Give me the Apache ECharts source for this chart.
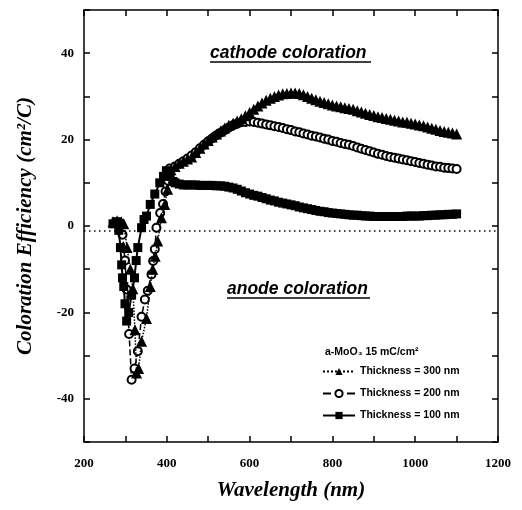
<!DOCTYPE html>
<html>
<head>
    <meta charset="UTF-8">
    <title>Coloration efficiency</title>
    <script src="https://cdn.jsdelivr.net/npm/echarts@6/dist/echarts.min.js"></script>
    <style>
        body { margin: 0; background: #fff; }
        #chart { width: 522px; height: 510px; }
    </style>
</head>
<body>
<div id="chart"></div>
<script>
    // wavelength (nm) and coloration efficiency (cm2/C)
    var wl_300 = [270, 280, 290, 296, 304, 312, 318, 323, 327, 332, 339, 351, 360, 366, 372, 378, 387, 395, 402,
        410, 420, 430, 440, 450, 460, 470, 480, 490, 500, 510, 520, 530, 540, 550, 560, 570, 580, 590, 600,
        610, 620, 630, 640, 650, 660, 670, 680, 690, 700, 710, 720, 730, 740, 750, 760, 770, 780, 790, 800,
        810, 820, 830, 840, 850, 860, 870, 880, 890, 900, 910, 920, 930, 940, 950, 960, 970, 980, 990, 1000,
        1010, 1020, 1030, 1040, 1050, 1060, 1070, 1080, 1090, 1100];
    var ce_300 = [1, 1.2, 1, 0.5, -5, -10, -14.5, -24, -34, -33, -26.7, -21.4, -14, -10, -7, -3.5, 1.9, 5, 8.5,
        13, 13.8, 14.5, 15, 15.5, 16, 17, 18, 19, 19.8, 20.6, 21.3, 22, 22.7, 23.3, 23.8, 24.3, 24.8, 25.5, 26.3,
        27, 27.8, 28.5, 29.1, 29.6, 30, 30.3, 30.6, 30.7, 30.8, 30.8, 30.7, 30.4, 30, 29.6, 29.2, 28.9, 28.6, 28.3, 28,
        27.8, 27.6, 27.4, 27.2, 27, 26.7, 26.4, 26.1, 25.8, 25.6, 25.3, 25.1, 24.9, 24.7, 24.5, 24.3, 24.1, 24, 23.8, 23.6,
        23.4, 23.2, 22.9, 22.6, 22.4, 22.1, 21.9, 21.7, 21.5, 21.3];

    var wl_200 = [288, 293, 299, 303, 309, 315, 322, 330, 339, 347, 354, 363, 367, 371, 375, 384, 391, 397, 403,
        407, 420, 430, 440, 450, 460, 470, 480, 490, 500, 510, 520, 530, 540, 550, 560, 570, 580, 590, 600,
        610, 620, 630, 640, 650, 660, 670, 680, 690, 700, 710, 720, 730, 740, 750, 760, 770, 780, 790, 800,
        810, 820, 830, 840, 850, 860, 870, 880, 890, 900, 910, 920, 930, 940, 950, 960, 970, 980, 990, 1000,
        1010, 1020, 1030, 1040, 1050, 1060, 1070, 1080, 1090, 1100];
    var ce_200 = [0.5, -2, -8, -14.7, -25, -35.6, -33, -29, -21, -17, -15, -11.2, -8.1, -5.4, -0.4, 3, 5.1, 8, 10.5,
        13.3, 13.8, 14.4, 15, 15.6, 16.3, 17.1, 18, 18.8, 19.6, 20.3, 21, 21.6, 22.2, 22.8, 23.3, 23.7, 24, 24.1, 24.2,
        24.1, 23.9, 23.7, 23.5, 23.3, 23.1, 22.9, 22.7, 22.4, 22.2, 21.9, 21.7, 21.4, 21.2, 20.9, 20.7, 20.5, 20.2, 20, 19.7,
        19.5, 19.2, 19, 18.8, 18.5, 18.2, 17.9, 17.6, 17.3, 17, 16.7, 16.5, 16.2, 16, 15.8, 15.6, 15.4, 15.2, 15, 14.8,
        14.6, 14.4, 14.2, 14, 13.8, 13.7, 13.5, 13.4, 13.3, 13.2];

    var wl_100 = [270, 278, 284, 288, 291, 293, 296, 299, 303, 308, 315, 322, 326, 330, 339, 345, 351, 360, 371,
        383, 392, 399, 408, 415, 420, 430, 440, 450, 460, 470, 480, 490, 500, 510, 520, 530, 540, 550, 560,
        570, 580, 590, 600, 610, 620, 630, 640, 650, 660, 670, 680, 690, 700, 710, 720, 730, 740, 750, 760,
        770, 780, 790, 800, 810, 820, 830, 840, 850, 860, 870, 880, 890, 900, 910, 920, 930, 940, 950, 960,
        970, 980, 990, 1000, 1010, 1020, 1030, 1040, 1050, 1060, 1070, 1080, 1090, 1100];
    var ce_100 = [0.5, 1, -1, -5, -9, -12, -14, -18, -22, -20, -16, -12, -8, -5, -0.4, 1.5, 2.3, 5, 7.4,
        10, 11.5, 12.8, 11.5, 10.3, 10, 9.7, 9.5, 9.5, 9.5, 9.5, 9.4, 9.4, 9.4, 9.4, 9.3, 9.3, 9.2, 9, 8.8,
        8.5, 8.1, 7.7, 7.4, 7.1, 6.9, 6.6, 6.3, 6, 5.8, 5.5, 5.3, 5.1, 4.9, 4.7, 4.4, 4.2, 4, 3.8, 3.6,
        3.4, 3.3, 3.1, 3, 2.9, 2.8, 2.7, 2.6, 2.5, 2.5, 2.4, 2.3, 2.3, 2.2, 2.2, 2.2, 2.2, 2.2, 2.2, 2.2,
        2.2, 2.3, 2.3, 2.3, 2.3, 2.4, 2.4, 2.5, 2.5, 2.6, 2.6, 2.7, 2.7, 2.8];

    var series_names = ['Thickness = 300 nm', 'Thickness = 200 nm', 'Thickness = 100 nm'];
    var zero_line = -1;

    function pairs(xs, ys) {
        var out = [];
        for (var i = 0; i < xs.length; i++) out.push([xs[i], ys[i]]);
        return out;
    }

    var serif = '"Liberation Serif", "DejaVu Serif", serif';
    var sans = '"Liberation Sans", Arial, sans-serif';

    var axis_common = {
        type: 'value',
        axisLine: {show: true, onZero: false, lineStyle: {color: '#000', width: 1.5}},
        axisTick: {show: true, inside: true, length: 6, lineStyle: {color: '#000', width: 1.5}},
        splitLine: {show: false}
    };

    var chart = echarts.init(document.getElementById('chart'), null, {renderer: 'canvas'});
    chart.setOption({
        animation: false,
        backgroundColor: '#fff',
        grid: {left: 84, right: 24, top: 10, bottom: 68},
        legend: {
            orient: 'vertical',
            left: 322,
            top: 366,
            itemWidth: 32,
            itemHeight: 9,
            itemGap: 11,
            padding: 0,
            data: series_names,
            textStyle: {color: '#000', fontFamily: sans, fontWeight: 'bold', fontSize: 10.5}
        },
        xAxis: [
            Object.assign({}, axis_common, {
                min: 200, max: 1200, interval: 100,
                name: 'Wavelength (nm)', nameLocation: 'middle', nameGap: 38,
                nameTextStyle: {color: '#000', fontFamily: serif, fontWeight: 'bold', fontStyle: 'italic', fontSize: 21},
                axisLabel: {
                    color: '#000', fontFamily: serif, fontWeight: 'bold', fontSize: 13, margin: 15,
                    formatter: function (v) { return v % 200 === 0 ? String(v) : ''; }
                }
            }),
            Object.assign({}, axis_common, {
                position: 'top', min: 200, max: 1200, interval: 100,
                axisLabel: {show: false}
            })
        ],
        yAxis: [
            Object.assign({}, axis_common, {
                min: -50, max: 50, interval: 10,
                name: 'Coloration Efficiency (cm\u00b2/C)', nameLocation: 'middle', nameGap: 48,
                nameTextStyle: {color: '#000', fontFamily: serif, fontWeight: 'bold', fontStyle: 'italic', fontSize: 21},
                axisLabel: {
                    color: '#000', fontFamily: serif, fontWeight: 'bold', fontSize: 13, margin: 10,
                    formatter: function (v) { return v % 20 === 0 ? String(v) : ''; }
                }
            }),
            Object.assign({}, axis_common, {
                position: 'right', min: -50, max: 50, interval: 10,
                axisLabel: {show: false}
            })
        ],
        graphic: [
            {type: 'text', left: 210, top: 44, style: {text: 'cathode coloration', fill: '#000',
                font: 'italic bold 17.5px ' + sans}},
            {type: 'line', shape: {x1: 210, y1: 62, x2: 371, y2: 62}, style: {stroke: '#000', lineWidth: 1.5}},
            {type: 'text', left: 227, top: 280, style: {text: 'anode coloration', fill: '#000',
                font: 'italic bold 17.5px ' + sans}},
            {type: 'line', shape: {x1: 227, y1: 298, x2: 370, y2: 298}, style: {stroke: '#000', lineWidth: 1.5}},
            {type: 'text', left: 325, top: 347, style: {text: 'a-MoO\u2083 15 mC/cm\u00b2', fill: '#000',
                font: 'bold 10.5px ' + sans}}
        ],
        series: [
            {
                name: series_names[1], type: 'line', data: pairs(wl_200, ce_200),
                symbol: 'circle', symbolSize: 8, showAllSymbol: true,
                itemStyle: {color: '#fff', borderColor: '#000', borderWidth: 2},
                lineStyle: {color: '#000', width: 1.5, type: 'dashed'},
                z: 3
            },
            {
                name: series_names[2], type: 'line', data: pairs(wl_100, ce_100),
                symbol: 'rect', symbolSize: 9, showAllSymbol: true,
                itemStyle: {color: '#000'},
                lineStyle: {color: '#000', width: 2, type: 'solid'},
                z: 4,
                markLine: {
                    silent: true, symbol: 'none', label: {show: false},
                    lineStyle: {color: '#000', width: 1.5, type: [1.5, 3.5]},
                    data: [{yAxis: zero_line}]
                }
            },
            {
                name: series_names[0], type: 'line', data: pairs(wl_300, ce_300),
                symbol: 'triangle', symbolSize: 11, showAllSymbol: true,
                itemStyle: {color: '#000'},
                lineStyle: {color: '#000', width: 1.5, type: 'dotted'},
                z: 5
            }
        ]
    });
</script>
</body>
</html>
